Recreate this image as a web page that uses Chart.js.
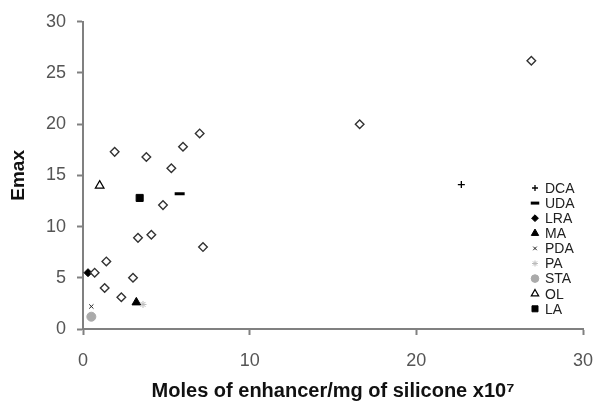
<!DOCTYPE html>
<html lang="en">
<head>
    <meta charset="UTF-8">
    <title>Emax vs moles of enhancer</title>
    <style>
        html, body { margin: 0; padding: 0; background: #fff; }
        #wrap { width: 604px; height: 412px; }
    </style>
</head>
<body>
    <div id="wrap"><canvas id="emax-chart" width="604" height="412"></canvas></div>

    <script src="https://cdn.jsdelivr.net/npm/chart.js"></script>
    <script>
        // unlabelled series (open diamonds)
        const otherX = [1.9, 3.8, 5.3, 6.0, 7.0, 16.6, 26.9, 4.8, 3.3, 4.1, 7.2, 1.4, 0.7, 3.0, 1.3, 2.3];
        const otherY = [17.3, 16.8, 15.7, 17.8, 19.1, 20.0, 26.2, 12.1, 8.9, 9.2, 8.0, 6.6, 5.5, 5.0, 4.0, 3.1];

        const legendNames = ['DCA', 'UDA', 'LRA', 'MA', 'PDA', 'PA', 'STA', 'OL', 'LA'];
        const enhancerX = [22.7, 5.8, 0.3, 3.2, 0.5, 3.6, 0.5, 1.0, 3.4];
        const enhancerY = [14.1, 13.2, 5.5, 2.6, 2.2, 2.4, 1.2, 14.0, 12.8];

        const xTicks = [0, 10, 20, 30];
        const yTicks = [0, 5, 10, 15, 20, 25, 30];

        // marker look for each named series
        const markers = {
            DCA: { style: 'cross', r: 3.5, fill: '#000', line: '#000', w: 1.3 },
            UDA: { style: 'line', r: 5, fill: '#000', line: '#000', w: 3 },
            LRA: { style: 'rectRot', r: 4, fill: '#000', line: '#000', w: 1 },
            MA: { style: 'triangle', r: 5, fill: '#000', line: '#000', w: 1 },
            PDA: { style: 'crossRot', r: 3, fill: '#222', line: '#222', w: 1 },
            PA: { style: 'star', r: 3.5, fill: '#bbb', line: '#bbb', w: 1 },
            STA: { style: 'circle', r: 4.5, fill: '#aaa', line: '#aaa', w: 1 },
            OL: { style: 'triangle', r: 5, fill: '#fff', line: '#000', w: 1.2 },
            LA: { style: 'rect', r: 5, fill: '#000', line: '#000', w: 1 }
        };

        const datasets = [{
            label: '',
            data: otherX.map((x, i) => ({ x: x, y: otherY[i] })),
            pointStyle: 'rectRot',
            pointRadius: 4.3,
            backgroundColor: '#fff',
            borderColor: '#333',
            borderWidth: 1.4
        }];
        legendNames.forEach((name, i) => {
            const m = markers[name];
            datasets.push({
                label: name,
                data: [{ x: enhancerX[i], y: enhancerY[i] }],
                pointStyle: m.style,
                pointRadius: m.r,
                backgroundColor: m.fill,
                borderColor: m.line,
                borderWidth: m.w
            });
        });

        // legend drawn inside the plot area, like the original
        const insideLegend = {
            id: 'insideLegend',
            afterDraw(chart) {
                const ctx = chart.ctx;
                ctx.save();
                ctx.font = '14px "Liberation Sans", Arial, sans-serif';
                ctx.textBaseline = 'middle';
                ctx.textAlign = 'left';
                legendNames.forEach((name, i) => {
                    const m = markers[name];
                    const y = 188 + i * 15.1;
                    ctx.fillStyle = m.fill;
                    ctx.strokeStyle = m.line;
                    ctx.lineWidth = m.w;
                    Chart.helpers.drawPoint(ctx, { pointStyle: m.style, radius: m.r * 0.85, rotation: 0, borderWidth: m.w }, 535, y);
                    ctx.fillStyle = '#222';
                    ctx.fillText(name, 545, y + 1);
                });
                ctx.restore();
            }
        };

        const tickFont = { family: '"Liberation Sans", Arial, sans-serif', size: 18 };

        new Chart(document.getElementById('emax-chart'), {
            type: 'scatter',
            data: { datasets: datasets },
            options: {
                responsive: false,
                animation: false,
                layout: { padding: { top: 19, right: 21, left: 0, bottom: 0 } },
                plugins: { legend: { display: false }, tooltip: { enabled: false } },
                scales: {
                    x: {
                        min: 0, max: 30,
                        afterBuildTicks: (s) => { s.ticks = xTicks.map(v => ({ value: v })); },
                        afterFit: (s) => { s.height = 83; s.paddingRight = 0; s.paddingLeft = 0; },
                        grid: { drawOnChartArea: false, drawTicks: true, tickLength: 6, tickColor: '#808080', tickWidth: 2 },
                        border: { color: '#808080', width: 2 },
                        ticks: { color: '#555', font: tickFont, padding: 15, maxRotation: 0 },
                        title: {
                            display: true,
                            text: 'Moles of enhancer/mg of silicone x10\u2077',
                            color: '#111',
                            font: { family: '"Liberation Sans", Arial, sans-serif', size: 20, weight: 'bold' },
                            padding: { top: 0, bottom: 9 }
                        }
                    },
                    y: {
                        min: 0, max: 30,
                        afterBuildTicks: (s) => { s.ticks = yTicks.map(v => ({ value: v })); },
                        afterFit: (s) => { s.width = 83; },
                        grid: { drawOnChartArea: false, drawTicks: true, tickLength: 6, tickColor: '#808080', tickWidth: 2 },
                        border: { color: '#808080', width: 2 },
                        ticks: { color: '#555', font: tickFont, padding: 11 },
                        title: {
                            display: true,
                            text: 'Emax',
                            color: '#111',
                            font: { family: '"Liberation Sans", Arial, sans-serif', size: 19, weight: 'bold' },
                            padding: { top: 7, bottom: 0 }
                        }
                    }
                }
            },
            plugins: [insideLegend]
        });
    </script>
</body>
</html>
